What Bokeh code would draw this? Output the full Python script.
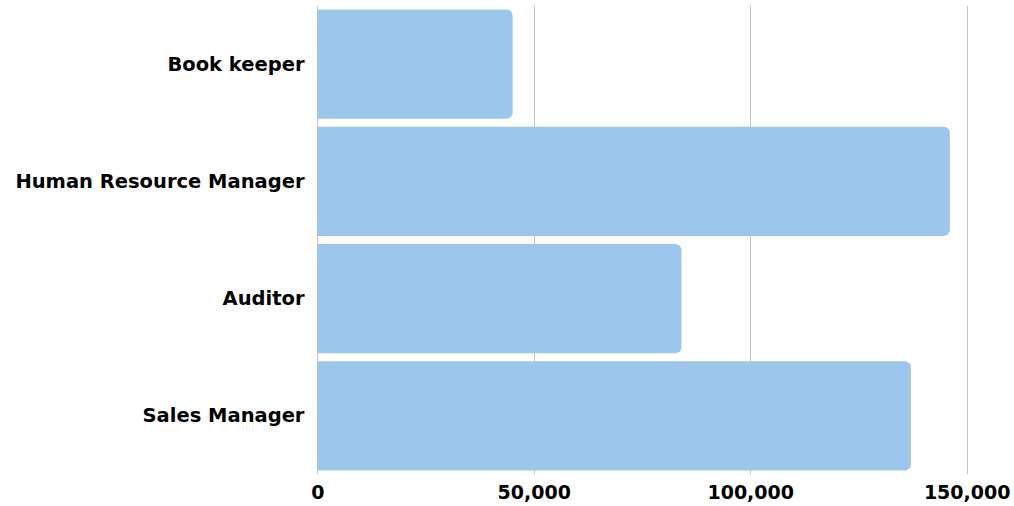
from bokeh.plotting import figure
from bokeh.models import ColumnDataSource, NumeralTickFormatter, FixedTicker, Range1d
from bokeh.embed import file_html
from bokeh.resources import INLINE

roles = ["Book keeper", "Human Resource Manager", "Auditor", "Sales Manager"]
salaries = [45000, 146000, 84000, 137000]
x_ticks = [0, 50000, 100000, 150000]

src = ColumnDataSource(dict(role=roles, salary=salaries))

p = figure(y_range=list(reversed(roles)), x_range=Range1d(-300, 151000),
           width=1014, height=506, output_backend="svg", toolbar_location=None,
           min_border_left=316, min_border_right=43, min_border_top=5, min_border_bottom=32)

p.hbar(y="role", right="salary", left=0, height=0.93, source=src,
       fill_color="#9DC6EC", line_color=None, border_radius=(0, 6, 6, 0))

p.outline_line_color = None
p.ygrid.grid_line_color = None
p.xgrid.grid_line_color = "#c4c4c4"
p.xgrid.grid_line_width = 1
p.xaxis.ticker = FixedTicker(ticks=x_ticks)
p.xaxis.formatter = NumeralTickFormatter(format="0,0")

for ax in (p.xaxis, p.yaxis):
    ax.axis_line_color = None
    ax.major_tick_line_color = None
    ax.minor_tick_line_color = None
    ax.major_label_text_font = "DejaVu Sans"
    ax.major_label_text_font_style = "bold"
    ax.major_label_text_color = "#000000"

p.yaxis.major_label_text_font_size = "19.5px"
p.yaxis.major_label_standoff = 6
p.xaxis.major_label_text_font_size = "19px"
p.xaxis.major_label_standoff = 4

open("out.html", "w").write(file_html(p, INLINE))
